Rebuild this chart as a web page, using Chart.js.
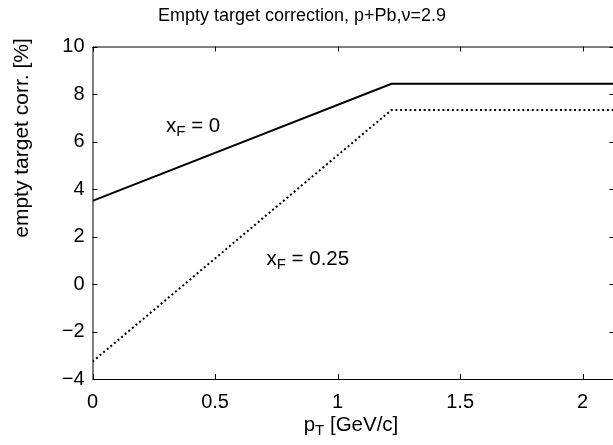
<!DOCTYPE html>
<html>
<head>
<meta charset="utf-8">
<script src="https://cdn.jsdelivr.net/npm/chart.js@4/dist/chart.umd.min.js"></script>
<style>
  html, body { margin: 0; padding: 0; background: #fff; overflow: hidden; }
  #wrap { width: 625px; height: 445px; }
</style>
</head>
<body>
<div id="wrap"><canvas id="corrChart"></canvas></div>
<script>
// empty target correction vs pT, two xF bins
const ptValues = [0, 1.22, 2.13];
const corrXf0 = [3.5, 8.43, 8.43];
const corrXf025 = [-3.27, 7.33, 7.33];

const yTicks = [-4, -2, 0, 2, 4, 6, 8, 10];
const xTicks = [0, 0.5, 1, 1.5, 2];

const FONT = '"Liberation Sans", Arial, Helvetica, sans-serif';

// curve labels, placed in axis units
const curveLabels = [
  { main: 'x', sub: 'F', rest: ' = 0', x: 0.3, y: 6.65 },
  { main: 'x', sub: 'F', rest: ' = 0.25', x: 0.71, y: 1.05 }
];

function toPoints(xs, ys) {
  return xs.map((x, i) => ({ x: x, y: ys[i] }));
}

// frame, inward ticks on all four sides and the text around the plot
const framePlugin = {
  id: 'frame',
  afterDraw(chart) {
    const ctx = chart.ctx;
    const a = chart.chartArea;
    const xs = chart.scales.x;
    const ys = chart.scales.y;
    const tl = 5;

    ctx.save();
    ctx.strokeStyle = '#000';
    ctx.lineWidth = 1;
    ctx.beginPath();
    ctx.rect(a.left + 0.5, a.top + 0.5, a.right - a.left, a.bottom - a.top);
    xTicks.forEach(v => {
      const px = Math.round(xs.getPixelForValue(v)) + 0.5;
      ctx.moveTo(px, a.bottom); ctx.lineTo(px, a.bottom - tl);
      ctx.moveTo(px, a.top); ctx.lineTo(px, a.top + tl);
    });
    yTicks.forEach(v => {
      const py = Math.round(ys.getPixelForValue(v)) + 0.5;
      ctx.moveTo(a.left, py); ctx.lineTo(a.left + tl, py);
      ctx.moveTo(a.right, py); ctx.lineTo(a.right - tl, py);
    });
    ctx.stroke();

    ctx.fillStyle = '#000';
    ctx.textAlign = 'center';
    ctx.textBaseline = 'middle';

    ctx.font = '18px ' + FONT;
    ctx.fillText('Empty target correction, p+Pb,\u03bd=2.9', 302, 16);

    // x axis title with subscript
    ctx.font = '20.5px ' + FONT;
    const p = 'p', t = 'T', rest = ' [GeV/c]';
    ctx.textAlign = 'left';
    const wp = ctx.measureText(p).width;
    const wr = ctx.measureText(rest).width;
    ctx.font = '15px ' + FONT;
    const wt = ctx.measureText(t).width;
    let x0 = 351 - (wp + wt + wr) / 2;
    ctx.font = '20.5px ' + FONT;
    ctx.fillText(p, x0, 425);
    ctx.font = '15px ' + FONT;
    ctx.fillText(t, x0 + wp, 431);
    ctx.font = '20.5px ' + FONT;
    ctx.fillText(rest, x0 + wp + wt, 425);

    // y axis title
    ctx.save();
    ctx.translate(22, 138);
    ctx.rotate(-Math.PI / 2);
    ctx.textAlign = 'center';
    ctx.font = '21px ' + FONT;
    ctx.fillText('empty target corr. [%]', 0, 0);
    ctx.restore();

    // curve labels
    curveLabels.forEach(l => {
      let lx = xs.getPixelForValue(l.x);
      const ly = ys.getPixelForValue(l.y);
      ctx.textAlign = 'left';
      ctx.font = '20.5px ' + FONT;
      ctx.fillText(l.main, lx, ly);
      lx += ctx.measureText(l.main).width;
      ctx.font = '15px ' + FONT;
      ctx.fillText(l.sub, lx, ly + 6);
      lx += ctx.measureText(l.sub).width;
      ctx.font = '20.5px ' + FONT;
      ctx.fillText(l.rest, lx, ly);
    });
    ctx.restore();
  }
};

const chart = new Chart(document.getElementById('corrChart'), {
  type: 'line',
  data: {
    datasets: [
      {
        label: 'xF = 0',
        data: toPoints(ptValues, corrXf0),
        borderColor: '#000',
        borderWidth: 2,
        pointRadius: 0,
        tension: 0
      },
      {
        label: 'xF = 0.25',
        data: toPoints(ptValues, corrXf025),
        borderColor: '#000',
        borderWidth: 2,
        borderDash: [2, 2.7],
        pointRadius: 0,
        tension: 0
      }
    ]
  },
  options: {
    responsive: true,
    maintainAspectRatio: false,
    animation: false,
    layout: { padding: { top: 46.5, right: 10.5, left: 0, bottom: 0 } },
    plugins: {
      legend: { display: false },
      tooltip: { enabled: false },
      title: { display: false }
    },
    scales: {
      x: {
        type: 'linear',
        min: 0,
        max: 2.13,
        border: { display: false },
        grid: { display: false, drawTicks: false },
        afterBuildTicks: s => { s.ticks = xTicks.map(v => ({ value: v })); },
        afterFit: s => { s.height = 66; },
        ticks: {
          color: '#000',
          padding: 11,
          maxRotation: 0,
          font: { family: FONT, size: 20 },
          callback: v => String(v)
        }
      },
      y: {
        min: -4,
        max: 10,
        border: { display: false },
        grid: { display: false, drawTicks: false },
        afterBuildTicks: s => { s.ticks = yTicks.map(v => ({ value: v })); },
        afterFit: s => { s.width = 92.5; },
        ticks: {
          color: '#000',
          padding: 8,
          font: { family: FONT, size: 20 },
          callback: v => (v < 0 ? '\u2212' + Math.abs(v) : String(v))
        }
      }
    }
  },
  plugins: [framePlugin]
});
</script>
</body>
</html>
